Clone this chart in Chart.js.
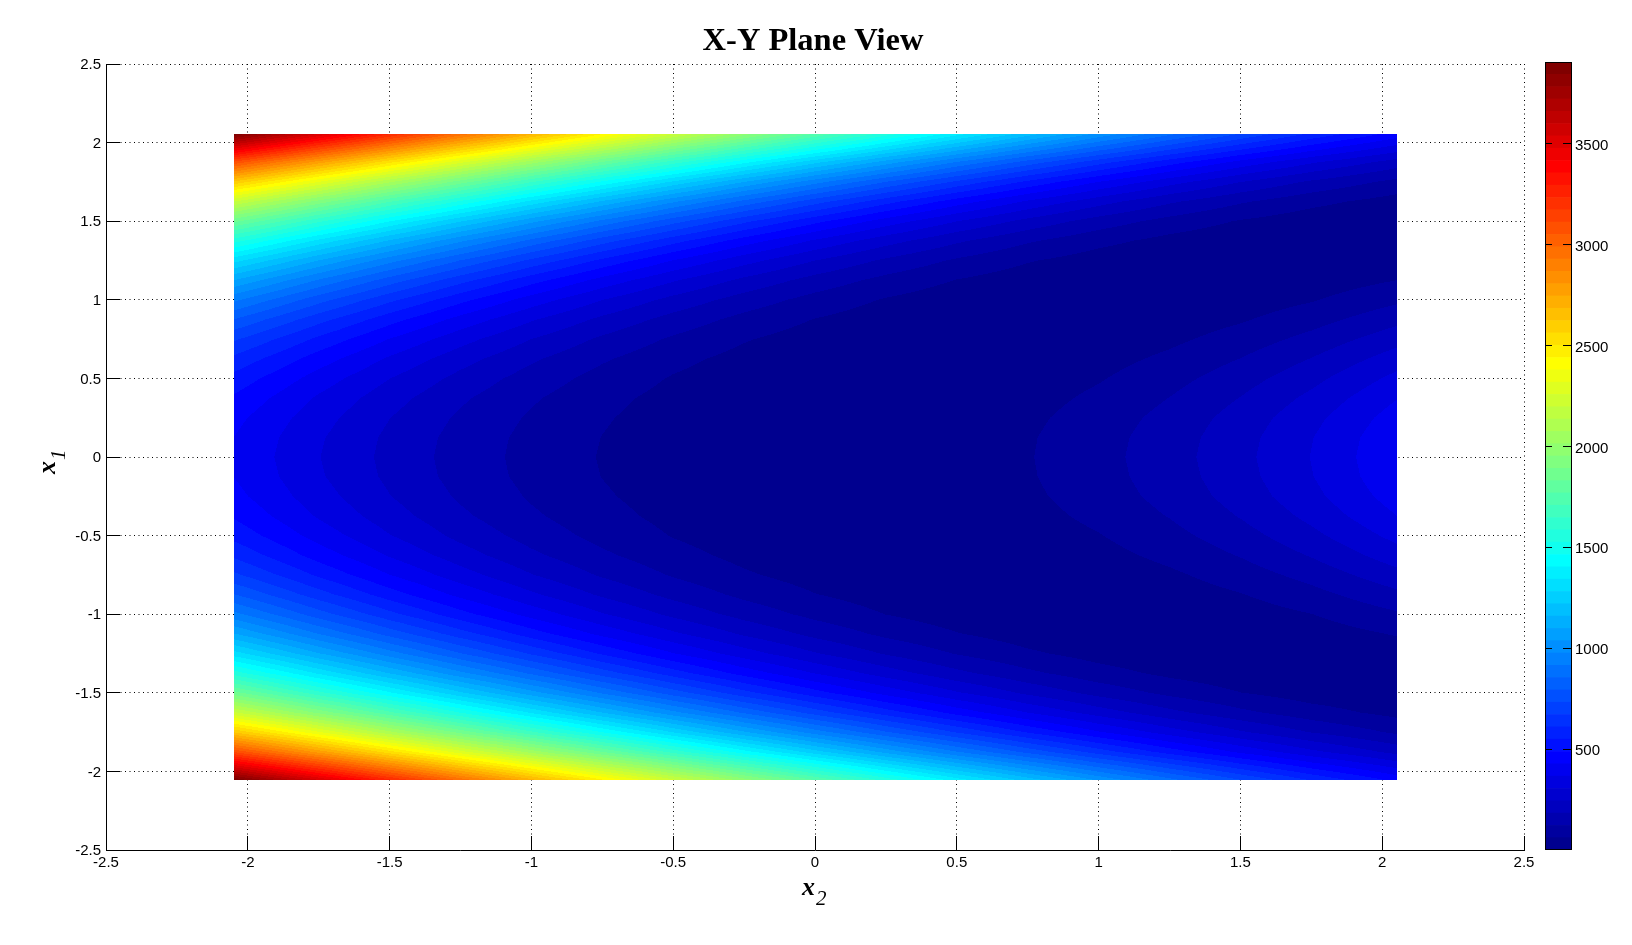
<!DOCTYPE html>
<html>
<head>
<meta charset="utf-8">
<title>X-Y Plane View</title>
<script src="https://cdn.jsdelivr.net/npm/chart.js@4"></script>
<style>
  body { margin: 0; background: #fff; width: 1632px; height: 945px; overflow: hidden; position: relative; }
  canvas { position: absolute; top: 0; }
  #mainChart { left: 0; }
  #colorbar { left: 1540px; }
  .axisName { position: absolute; font: italic bold 26px "Liberation Serif", serif; color: #000; white-space: nowrap; line-height: 30px; }
  .axisName span { font-size: 21px; font-weight: normal; position: relative; top: 10px; margin-left: 1px; }
  #x2Name { left: 802px; top: 872px; }
  #x1Name { left: 32px; top: 474px; transform: rotate(-90deg); transform-origin: left top; }
</style>
</head>
<body>
<canvas id="mainChart" width="1632" height="945"></canvas>
<canvas id="colorbar" width="92" height="945"></canvas>
<div class="axisName" id="x2Name">x<span>2</span></div>
<div class="axisName" id="x1Name">x<span>1</span></div>
<script>
// axis ticks
const axisTicks = [-2.5, -2, -1.5, -1, -0.5, 0, 0.5, 1, 1.5, 2, 2.5];
const colorbarTicks = [500, 1000, 1500, 2000, 2500, 3000, 3500];
const colorMax = 3905;
const colorLevels = 64;

// sample positions
const x2Values = [-2.05, -1.75, -1.5, -1.25, -1, -0.75, -0.5, -0.25, 0, 0.25, 0.5, 0.75, 1, 1.25, 1.5, 1.75, 2.052];
const x1Values = [2.055, 1.875, 1.75, 1.625, 1.5, 1.375, 1.25, 1.125, 1, 0.875, 0.75, 0.625, 0.5, 0.375, 0.25, 0.125, 0,
  -0.125, -0.25, -0.375, -0.5, -0.625, -0.75, -0.875, -1, -1.125, -1.25, -1.375, -1.5, -1.625, -1.75, -1.875, -2.055];

// one row per x1 value, one column per x2 value
const surfaceRows = [
  [3897,3534,3243,2965,2699,2445,2204,1976,1760,1556,1366,1187,1021,868,727,598,462],
  [3096,2774,2517,2272,2040,1821,1614,1419,1237,1068,910,766,634,514,407,313,216],
  [2613,2317,2083,1861,1651,1454,1270,1098,939,792,658,536,426,330,245,173,104],
  [2198,1928,1714,1514,1325,1150,986,836,697,572,458,357,269,193,130,79,35],
  [1847,1600,1406,1225,1056,900,756,625,506,400,306,225,156,100,56,25,4],
  [1551,1325,1150,986,836,697,572,458,357,269,193,130,79,41,15,2,3],
  [1304,1097,938,791,657,535,425,329,244,172,113,66,32,10,0,4,24],
  [1098,909,765,633,513,406,312,230,160,103,59,27,7,0,5,23,61],
  [929,756,625,506,400,306,225,156,100,56,25,6,0,6,25,56,110],
  [792,633,513,406,312,230,160,103,59,27,7,0,5,23,54,97,164],
  [681,535,425,329,244,172,113,66,32,10,0,4,19,47,88,141,221],
  [595,458,357,269,193,130,79,41,15,2,1,13,37,74,123,185,275],
  [528,400,306,225,156,100,56,25,6,0,6,25,56,100,156,225,323],
  [479,357,269,193,130,79,41,15,2,1,13,37,74,123,185,259,364],
  [446,330,245,173,114,67,33,11,1,5,20,48,89,142,208,286,395],
  [427,313,231,161,104,60,28,8,1,6,24,55,98,153,221,302,414],
  [420,307,226,157,101,57,26,7,1,7,26,57,101,157,226,307,420],
  [427,313,231,161,104,60,28,8,1,6,24,55,98,153,221,302,414],
  [447,331,246,174,115,68,34,12,2,6,21,49,90,143,209,287,396],
  [481,359,271,195,132,81,43,17,4,3,15,39,76,125,187,261,366],
  [530,402,308,227,158,102,58,27,8,2,8,27,58,102,158,227,325],
  [598,461,360,272,196,133,82,44,18,5,4,16,40,77,126,188,278],
  [684,538,428,332,247,175,116,69,35,13,3,7,22,50,91,144,224],
  [796,637,517,410,316,234,164,107,63,31,11,4,9,27,58,101,168],
  [933,760,629,510,404,310,229,160,104,60,29,10,4,10,29,60,114],
  [1103,914,770,638,518,411,317,235,165,108,64,32,12,5,10,28,66],
  [1309,1102,943,796,662,540,430,334,249,177,118,71,37,15,5,9,29],
  [1557,1331,1156,992,842,703,578,464,363,275,199,136,85,47,21,8,8],
  [1853,1606,1412,1231,1062,906,762,631,512,406,312,231,162,106,62,31,10],
  [2205,1935,1721,1521,1332,1157,993,843,704,579,465,364,276,200,137,86,42],
  [2620,2324,2090,1868,1658,1461,1277,1105,946,799,665,543,433,337,252,180,111],
  [3103,2781,2524,2279,2047,1828,1621,1426,1244,1075,917,773,641,521,414,320,223],
  [3905,3542,3251,2973,2707,2453,2212,1984,1768,1564,1374,1195,1029,876,735,606,470]
];

// matlab jet colormap, level is 1..64
function jet(level) {
  const v = level / 16;
  const c = n => Math.round(Math.max(0, Math.min(1, n)) * 255);
  return [c(Math.min(v - 1.5, 4.5 - v)), c(Math.min(v - 0.5, 3.5 - v)), c(Math.min(v + 0.5, 2.5 - v))];
}
const jetColors = [];
for (let i = 1; i <= colorLevels; i++) jetColors.push(jet(i));

// finds the cell a value sits in, and how far across it
function locate(values, v) {
  let i = 0;
  while (i < values.length - 2 && (values[i + 1] - v) * (values[1] - values[0]) <= 0) i++;
  return [i, (v - values[i]) / (values[i + 1] - values[i])];
}

const axisFont = { family: '"Liberation Sans", Arial, sans-serif', size: 15 };

// paints the surface over the grid, shaded in 64 flat colour levels like the figure
const surfacePlugin = {
  id: 'surface',
  afterDatasetsDraw(chart) {
    const xs = chart.scales.x, ys = chart.scales.y, points = chart.data.datasets[0].data;
    const n = x2Values.length;
    const left = Math.round(xs.getPixelForValue(x2Values[0]));
    const right = Math.round(xs.getPixelForValue(x2Values[n - 1]));
    const top = Math.round(ys.getPixelForValue(x1Values[0]));
    const bottom = Math.round(ys.getPixelForValue(x1Values[x1Values.length - 1]));
    const w = right - left, h = bottom - top;
    const img = chart.ctx.createImageData(w, h);
    const columns = [];
    for (let px = 0; px < w; px++) columns.push(locate(x2Values, xs.getValueForPixel(left + px + 0.5)));
    let k = 0;
    for (let py = 0; py < h; py++) {
      const [r, fy] = locate(x1Values, ys.getValueForPixel(top + py + 0.5));
      for (let px = 0; px < w; px++) {
        const [c, fx] = columns[px];
        const a = points[r * n + c].v, b = points[r * n + c + 1].v;
        const d = points[(r + 1) * n + c].v, e = points[(r + 1) * n + c + 1].v;
        const val = (a + (b - a) * fx) * (1 - fy) + (d + (e - d) * fx) * fy;
        const idx = Math.max(0, Math.min(colorLevels - 1, Math.floor(val / colorMax * colorLevels)));
        const col = jetColors[idx];
        img.data[k++] = col[0];
        img.data[k++] = col[1];
        img.data[k++] = col[2];
        img.data[k++] = 255;
      }
    }
    chart.ctx.putImageData(img, left, top);

    // short solid ticks running in from the left and bottom axes
    const ctx = chart.ctx, area = chart.chartArea;
    ctx.save();
    ctx.strokeStyle = '#000';
    ctx.lineWidth = 1;
    ctx.setLineDash([]);
    ctx.beginPath();
    axisTicks.forEach(t => {
      const py = Math.floor(ys.getPixelForValue(t)) + 0.5;
      ctx.moveTo(area.left, py);
      ctx.lineTo(area.left + 14, py);
      const px = Math.floor(xs.getPixelForValue(t)) + 0.5;
      ctx.moveTo(px, area.bottom);
      ctx.lineTo(px, area.bottom - 14);
    });
    ctx.stroke();
    ctx.restore();
  }
};

const surfacePoints = [];
x1Values.forEach((x1, r) => {
  x2Values.forEach((x2, c) => surfacePoints.push({ x: x2, y: x1, v: surfaceRows[r][c] }));
});

const gridStyle = { color: '#000', lineWidth: 1, drawTicks: false };
const borderStyle = { color: '#000', width: 1, dash: [1, 3.5] };

const mainChart = new Chart(document.getElementById('mainChart').getContext('2d'), {
  type: 'scatter',
  data: {
    datasets: [{ label: 'f(x1, x2)', data: surfacePoints, pointRadius: 0, pointHoverRadius: 0 }]
  },
  options: {
    responsive: false,
    animation: false,
    // right margin comes from the spacer axis so the title stays centred on the page
    layout: { padding: { left: 0, right: 6, top: 0, bottom: 0 } },
    scales: {
      x: {
        type: 'linear', min: -2.5, max: 2.5,
        grid: gridStyle, border: borderStyle,
        afterBuildTicks: s => { s.ticks = axisTicks.map(v => ({ value: v })); },
        afterFit: s => { s.height = 95; },
        ticks: { color: '#000', font: axisFont, padding: 4, maxRotation: 0, autoSkip: false, callback: v => String(v) }
      },
      y: {
        type: 'linear', min: -2.5, max: 2.5,
        grid: gridStyle, border: borderStyle,
        afterBuildTicks: s => { s.ticks = axisTicks.map(v => ({ value: v })); },
        afterFit: s => { s.width = 106; },
        ticks: { color: '#000', font: axisFont, padding: 5, labelOffset: 1, autoSkip: false, callback: v => String(v) }
      },
      spacer: {
        type: 'linear', position: 'right',
        grid: { display: false, drawTicks: false },
        border: { display: false },
        ticks: { display: false },
        afterFit: s => { s.width = 102; }
      }
    },
    plugins: {
      legend: { display: false },
      tooltip: { enabled: false },
      title: {
        display: true,
        text: 'X-Y Plane View',
        color: '#000',
        font: { family: '"Liberation Serif", serif', size: 32.5, weight: 'bold' },
        padding: { top: 22, bottom: 3 }
      }
    }
  },
  plugins: [surfacePlugin]
});

// frame and inward ticks of the colour bar
const barFramePlugin = {
  id: 'barFrame',
  afterDatasetsDraw(chart) {
    const ctx = chart.ctx, area = chart.chartArea, ys = chart.scales.y;
    ctx.save();
    ctx.strokeStyle = '#000';
    ctx.lineWidth = 1;
    ctx.strokeRect(area.left + 0.5, area.top + 0.5, area.right - area.left - 1, area.bottom - area.top - 1);
    ctx.beginPath();
    colorbarTicks.forEach(t => {
      const py = Math.floor(ys.getPixelForValue(t)) + 0.5;
      ctx.moveTo(area.left, py);
      ctx.lineTo(area.left + 7, py);
      ctx.moveTo(area.right - 9, py);
      ctx.lineTo(area.right, py);
    });
    ctx.stroke();
    ctx.restore();
  }
};

const colorbarDatasets = jetColors.map(col => ({
  data: [colorMax / colorLevels],
  backgroundColor: 'rgb(' + col.join(',') + ')',
  borderWidth: 0,
  barPercentage: 1,
  categoryPercentage: 1
}));

const colorbar = new Chart(document.getElementById('colorbar').getContext('2d'), {
  type: 'bar',
  data: { labels: [''], datasets: colorbarDatasets },
  options: {
    responsive: false,
    animation: false,
    layout: { padding: { left: 5, right: 0, top: 62, bottom: 95 } },
    scales: {
      x: { stacked: true, display: false },
      y: {
        stacked: true, position: 'right', min: 0, max: colorMax,
        grid: { display: false, drawTicks: false },
        border: { display: false },
        afterBuildTicks: s => { s.ticks = colorbarTicks.map(v => ({ value: v })); },
        afterFit: s => { s.width = 60; },
        ticks: { color: '#000', font: axisFont, padding: 3, labelOffset: 2, callback: v => String(v) }
      }
    },
    plugins: { legend: { display: false }, tooltip: { enabled: false } }
  },
  plugins: [barFramePlugin]
});
</script>
</body>
</html>
